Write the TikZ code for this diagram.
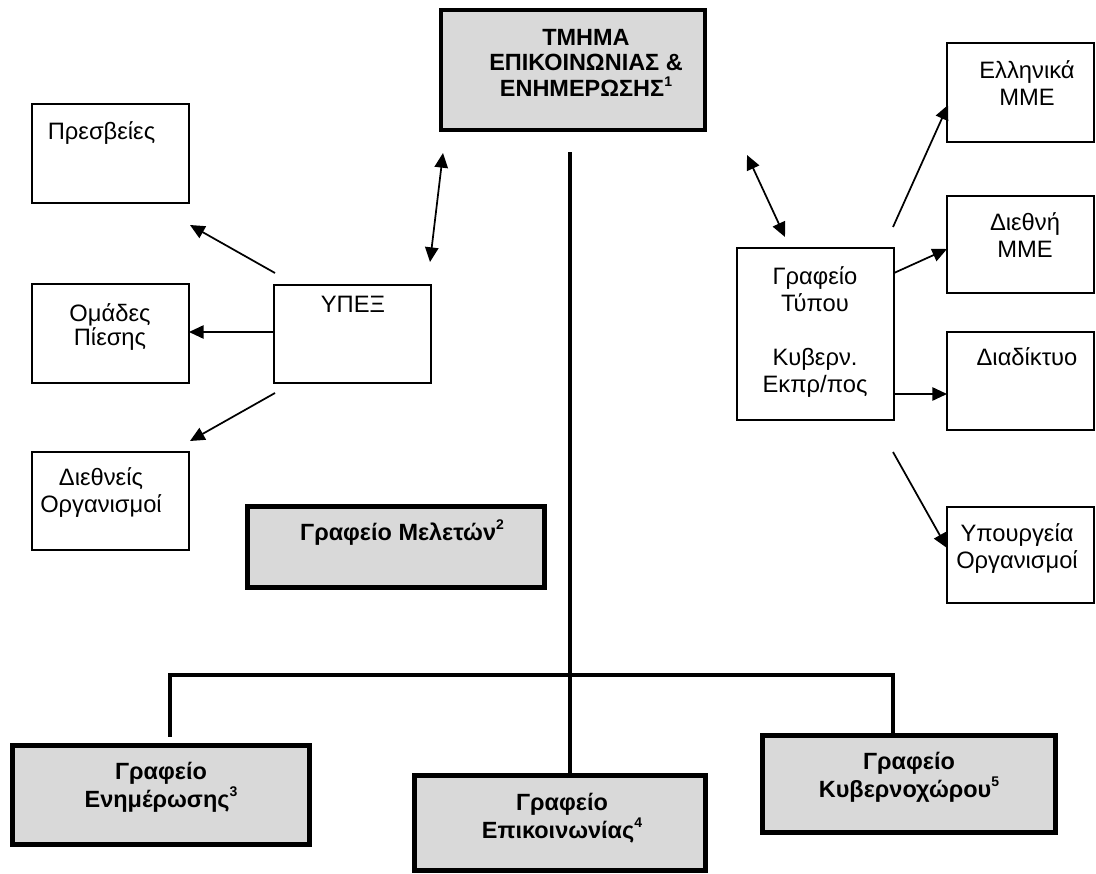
\documentclass[tikz,border=0pt]{standalone}
\usepackage{fontspec}
\setmainfont{Liberation Sans}
\usetikzlibrary{arrows.meta,calc}
\definecolor{boxgray}{HTML}{D9D9D9}
\tikzset{
  graybox/.style={draw=black, line width=3.6pt, fill=boxgray, inner sep=0pt, outer sep=0pt},
  thinbox/.style={draw=black, line width=1.3pt, fill=white, inner sep=0pt, outer sep=0pt},
  rtxt/.style={inner sep=0pt, align=center, anchor=base, font=\fontsize{17.8}{20.25}\selectfont},
  btxt/.style={inner sep=0pt, align=center, anchor=base, font=\bfseries\fontsize{17.6}{20.5}\selectfont},
  trunk/.style={draw=black, line width=3.2pt},
  arr/.style={draw=black, line width=1.3pt, -{Triangle[length=11pt,width=10pt]}},
  darr/.style={draw=black, line width=1.3pt, {Triangle[length=11pt,width=10pt]}-{Triangle[length=11pt,width=10pt]}}
}
\newcommand{\sups}[1]{\raisebox{0.45em}{\fontsize{10.5}{10.5}\selectfont\bfseries #1}}
\begin{document}
\begin{tikzpicture}[x=0.75pt,y=-0.75pt]
\useasboundingbox (0,0) rectangle (1096,874);

% grey boxes
\node[graybox, minimum width=198pt, minimum height=90pt] (tmima) at (573,70) {};
\node[graybox, minimum width=222.75pt, minimum height=60.75pt] (melet) at (396,547) {};
\node[graybox, minimum width=222.75pt, minimum height=74.25pt] (enim) at (161,795) {};
\node[graybox, minimum width=218.25pt, minimum height=71pt] (epik) at (560,823) {};
\node[graybox, minimum width=219.75pt, minimum height=72.75pt] (kyv) at (909,784) {};

% thin boxes
\node[thinbox, minimum width=117.75pt, minimum height=74.25pt] (presv) at (110.5,153.5) {};
\node[thinbox, minimum width=117.75pt, minimum height=74.25pt] (omad) at (110.5,333.5) {};
\node[thinbox, minimum width=117.75pt, minimum height=73.5pt] (dieth) at (110.5,501) {};
\node[thinbox, minimum width=117.75pt, minimum height=73.5pt] (ypex) at (352.5,334) {};
\node[thinbox, minimum width=117.75pt, minimum height=129pt] (typou) at (815.5,334) {};
\node[thinbox, minimum width=110.25pt, minimum height=74.25pt] (ellin) at (1020.5,92.5) {};
\node[thinbox, minimum width=110.25pt, minimum height=72.75pt] (diethni) at (1020.5,244.5) {};
\node[thinbox, minimum width=110.25pt, minimum height=73.5pt] (diad) at (1020.5,381) {};
\node[thinbox, minimum width=110.25pt, minimum height=72pt] (ypourg) at (1020.5,555) {};

% texts (anchor = baseline of last line)
\node[btxt, font=\bfseries\fontsize{17.6}{19.5}\selectfont] (t-tmima) at (586,97) {ΤΜΗΜΑ\\ΕΠΙΚΟΙΝΩΝΙΑΣ \&\\ΕΝΗΜΕΡΩΣΗΣ\sups{1}};
\node[btxt] (t-melet) at (402,540) {Γραφείο Μελετών\sups{2}};
\node[btxt] (t-enim) at (161,807) {Γραφείο\\Ενημέρωσης\sups{3}};
\node[btxt] (t-epik) at (562,838) {Γραφείο\\Επικοινωνίας\sups{4}};
\node[btxt] (t-kyv) at (909,797) {Γραφείο\\Κυβερνοχώρου\sups{5}};

\node[rtxt] (t-presv) at (101.5,139) {Πρεσβείες};
\node[rtxt, font=\fontsize{17.8}{18}\selectfont] (t-omad) at (110,345) {Ομάδες\\Πίεσης};
\node[rtxt] (t-dieth) at (101,512) {Διεθνείς\\Οργανισμοί};
\node[rtxt] (t-ypex) at (353,312) {ΥΠΕΞ};
\node[rtxt] (t-typou) at (815,392) {Γραφείο\\Τύπου\\[20.25pt]Κυβερν.\\Εκπρ/πος};
\node[rtxt] (t-ellin) at (1027,105) {Ελληνικά\\ΜΜΕ};
\node[rtxt] (t-diethni) at (1025,257) {Διεθνή\\ΜΜΕ};
\node[rtxt] (t-diad) at (1027,365) {Διαδίκτυο};
\node[rtxt] (t-ypourg) at (1017,568) {Υπουργεία\\Οργανισμοί};

% trunk and branches
\coordinate (trunktop) at (570,152);
\coordinate (branchL) at (170,675);
\coordinate (branchR) at (893,675);
\draw[trunk] (trunktop) -- (trunktop |- epik.north);
\draw[trunk, line cap=rect] ($(branchL)+(0,60)$) -- (branchL) -- (branchR) -- (branchR |- kyv.north);
\draw[trunk] ($(melet.east)+(0,-5)$) -- ($(melet.east)+(0,-5)$ -| trunktop);

% arrows
\draw[arr] ($(ypex.north west)+(1,-12)$) -- ($(presv.south east)+(1,22)$);
\draw[arr] ($(ypex.west)+(0,-2)$) -- ($(omad.east)+(0,-1.5)$);
\draw[arr] ($(ypex.south west)+(1,10)$) -- ($(dieth.north east)+(1,-11)$);
\draw[darr] ($(tmima.south west)+(2,23)$) -- ($(ypex.north east)+(-1,-23)$);
\draw[darr] ($(tmima.south east)+(42,25)$) -- ($(typou.north west)+(48,-11)$);
\draw[arr] ($(typou.north east)+(-1,-21)$) -- ($(ellin.south west)+(1,-37)$);
\draw[arr] ($(typou.north east)+(0,25)$) -- ($(diethni.west)+(0,4.5)$);
\draw[arr] ($(typou.east)+(0,60)$) -- ($(diad.west)+(0,13)$);
\draw[arr] ($(typou.south east)+(-1,32)$) -- ($(ypourg.west)+(0,-7)$);
\end{tikzpicture}
\end{document}
